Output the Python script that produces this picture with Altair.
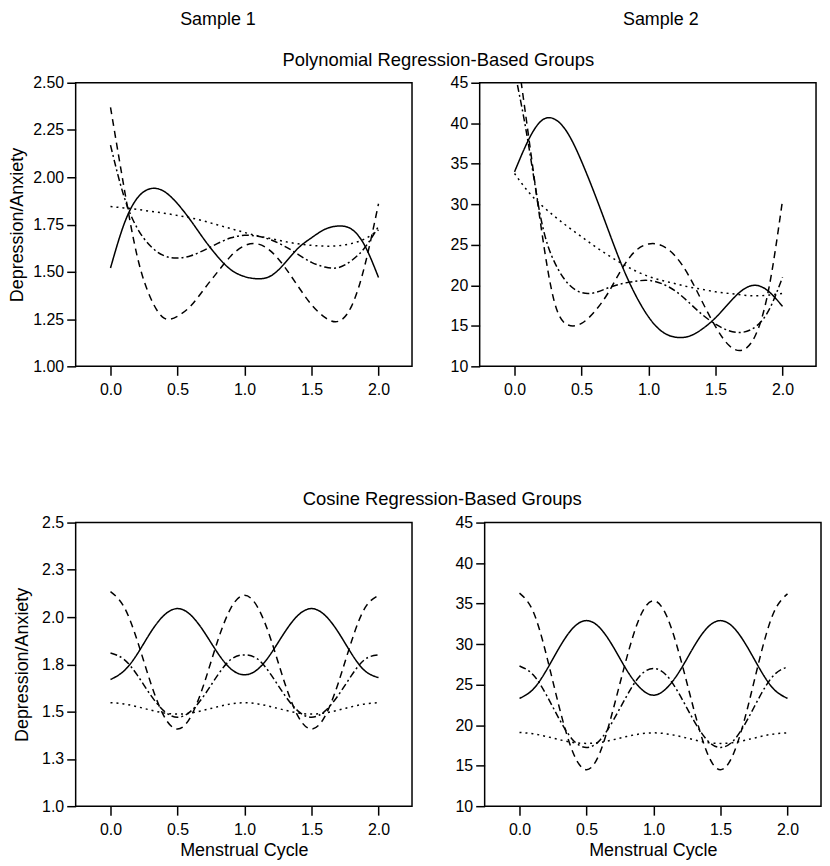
import altair as alt
import pandas as pd

FONT = "Liberation Sans"

# ---- data ----
x_vals = [0.0, 0.1, 0.2, 0.3, 0.4, 0.5, 0.6, 0.7, 0.8, 0.9, 1.0,
          1.1, 1.2, 1.3, 1.4, 1.5, 1.6, 1.7, 1.8, 1.9, 2.0]

styles = ["solid", "dashed", "dotted", "dashdot"]
dash_patterns = [[1, 0], [7, 5], [2, 4], [7, 3, 2, 3]]

sample_titles = ["Sample 1", "Sample 2"]
row_titles = ["Polynomial Regression-Based Groups", "Cosine Regression-Based Groups"]
y_title = "Depression/Anxiety"
x_title = "Menstrual Cycle"

x_ticks = [0.0, 0.5, 1.0, 1.5, 2.0]
y_ticks_s1 = [1.0, 1.25, 1.5, 1.75, 2.0, 2.25, 2.5]
y_ticks_s2 = [10, 15, 20, 25, 30, 35, 40, 45]

# Polynomial, Sample 1
poly_s1_solid = [1.52, 1.75, 1.89, 1.94, 1.925, 1.86, 1.77, 1.67, 1.58, 1.51, 1.475,
                 1.463, 1.48, 1.545, 1.625, 1.68, 1.725, 1.742, 1.725, 1.635, 1.47]
poly_s1_dashed = [2.37, 1.95, 1.58, 1.36, 1.255, 1.265, 1.32, 1.41, 1.50, 1.585, 1.638,
                  1.647, 1.607, 1.525, 1.423, 1.326, 1.259, 1.238, 1.32, 1.54, 1.86]
poly_s1_dotted = [1.845, 1.838, 1.83, 1.82, 1.81, 1.798, 1.785, 1.768, 1.748, 1.728, 1.708,
                  1.69, 1.675, 1.66, 1.648, 1.64, 1.636, 1.638, 1.65, 1.675, 1.722]
poly_s1_dashdot = [2.17, 1.90, 1.73, 1.635, 1.585, 1.573, 1.585, 1.615, 1.65, 1.68, 1.693,
                   1.688, 1.668, 1.635, 1.592, 1.55, 1.525, 1.522, 1.56, 1.63, 1.74]

# Polynomial, Sample 2
poly_s2_solid = [34.0, 37.8, 40.3, 40.5, 38.7, 35.3, 31.2, 26.8, 22.5, 18.9, 16.1,
                 14.3, 13.6, 13.7, 14.6, 16.0, 17.8, 19.4, 20.0, 19.2, 17.4]
poly_s2_dashed = [51.0, 39.0, 27.0, 17.8, 15.1, 15.3, 16.8, 19.1, 22.0, 24.2, 25.1,
                  24.9, 23.6, 21.2, 18.0, 14.9, 12.6, 12.0, 13.9, 19.8, 30.5]
poly_s2_dotted = [33.8, 31.6, 29.9, 28.5, 27.2, 26.0, 24.8, 23.7, 22.7, 21.8, 21.1,
                  20.6, 20.2, 19.8, 19.5, 19.2, 19.0, 18.8, 18.7, 18.8, 19.0]
poly_s2_dashdot = [46.5, 37.8, 28.0, 22.8, 20.2, 19.1, 19.1, 19.7, 20.2, 20.5, 20.6,
                   20.2, 19.3, 17.9, 16.4, 15.2, 14.4, 14.2, 14.9, 17.0, 21.0]

# Cosine, Sample 1
cos_s1_solid = [1.67, 1.715, 1.805, 1.92, 2.01, 2.045, 2.01, 1.92, 1.81, 1.725, 1.695,
                1.725, 1.81, 1.92, 2.01, 2.045, 2.01, 1.92, 1.805, 1.715, 1.68]
cos_s1_dashed = [2.135, 2.055, 1.875, 1.652, 1.475, 1.408, 1.475, 1.652, 1.875, 2.05, 2.115,
                 2.05, 1.875, 1.652, 1.475, 1.408, 1.475, 1.652, 1.875, 2.05, 2.115]
cos_s1_dotted = [1.547, 1.541, 1.526, 1.508, 1.493, 1.487, 1.493, 1.508, 1.526, 1.541, 1.547,
                 1.541, 1.526, 1.508, 1.493, 1.487, 1.493, 1.508, 1.526, 1.541, 1.547]
cos_s1_dashdot = [1.81, 1.777, 1.693, 1.587, 1.503, 1.47, 1.503, 1.587, 1.693, 1.777, 1.80,
                  1.777, 1.693, 1.587, 1.503, 1.47, 1.503, 1.587, 1.693, 1.777, 1.80]

# Cosine, Sample 2
cos_s2_solid = [23.3, 24.4, 26.75, 29.65, 32.0, 32.9, 32.0, 29.65, 26.8, 24.6, 23.7,
                24.6, 26.8, 29.65, 32.0, 32.9, 32.0, 29.65, 26.75, 24.4, 23.3]
cos_s2_dashed = [36.3, 34.1, 28.7, 22.0, 16.6, 14.5, 16.6, 22.0, 28.3, 33.4, 35.35,
                 33.4, 28.3, 22.0, 16.6, 14.5, 16.6, 22.0, 28.7, 34.0, 36.2]
cos_s2_dotted = [19.1, 18.94, 18.6, 18.2, 17.86, 17.75, 17.86, 18.2, 18.6, 18.92, 19.05,
                 18.92, 18.6, 18.2, 17.86, 17.75, 17.86, 18.2, 18.6, 18.92, 19.05]
cos_s2_dashdot = [27.3, 26.25, 23.75, 20.65, 18.15, 17.25, 18.15, 20.6, 23.6, 26.1, 27.0,
                  26.1, 23.6, 20.6, 18.15, 17.25, 18.15, 20.65, 23.75, 26.2, 27.2]


def make_df(series):
    rows = []
    for style, vals in zip(styles, series):
        for xv, yv in zip(x_vals, vals):
            rows.append({"x": xv, "y": yv, "style": style})
    return pd.DataFrame(rows)


W = 338
H = 285


def panel(series, ydom, yticks, yfmt, show_ytitle, show_xtitle, tpad):
    df = make_df(series)
    if show_ytitle:
        yaxis = alt.Axis(values=yticks, format=yfmt, title=y_title, titlePadding=tpad)
    else:
        yaxis = alt.Axis(values=yticks, format=yfmt, title=None)
    if show_xtitle:
        xaxis = alt.Axis(values=x_ticks, format=".1f", title=x_title, titlePadding=5)
    else:
        xaxis = alt.Axis(values=x_ticks, format=".1f", title=None)
    return alt.Chart(df).mark_line(
        color="black", strokeWidth=1.5, clip=True, interpolate="natural"
    ).encode(
        x=alt.X("x:Q", scale=alt.Scale(domain=[-0.26, 2.25], nice=False, zero=False), axis=xaxis),
        y=alt.Y("y:Q", scale=alt.Scale(domain=ydom, nice=False, zero=False), axis=yaxis),
        strokeDash=alt.StrokeDash("style:N", scale=alt.Scale(domain=styles, range=dash_patterns), legend=None),
    ).properties(width=W, height=H)


def header(text, dx):
    return alt.Chart(pd.DataFrame({"label": [text]})).mark_point(opacity=0).properties(
        width=W, height=1,
        view=alt.ViewBackground(strokeOpacity=0),
        title=alt.TitleParams(text=text, anchor="middle", dx=dx, offset=0),
    )


p1 = panel([poly_s1_solid, poly_s1_dashed, poly_s1_dotted, poly_s1_dashdot],
           [1.0, 2.5], y_ticks_s1, ".2f", True, False, 6)
p2 = panel([poly_s2_solid, poly_s2_dashed, poly_s2_dotted, poly_s2_dashdot],
           [10, 45], y_ticks_s2, "d", False, False, 6)
p3 = panel([cos_s1_solid, cos_s1_dashed, cos_s1_dotted, cos_s1_dashdot],
           [1.0, 2.5], y_ticks_s1, ".1f", True, True, 10)
p4 = panel([cos_s2_solid, cos_s2_dashed, cos_s2_dotted, cos_s2_dashdot],
           [10, 45], y_ticks_s2, "d", False, True, 6)

head = alt.hconcat(header(sample_titles[0], -26), header(sample_titles[1], 45), spacing=36)
top_row = alt.hconcat(p1, p2, spacing=36,
                      title=alt.TitleParams(text=row_titles[0], anchor="middle", dx=26, offset=5,
                                            fontSize=18.5))
bottom_row = alt.hconcat(p3, p4, spacing=41,
                         title=alt.TitleParams(text=row_titles[1], anchor="middle", dx=25, offset=5,
                                               fontSize=18.5))

upper = alt.vconcat(head, top_row, spacing=15)
chart = alt.vconcat(upper, bottom_row, spacing=92, padding=0).configure_view(
    stroke="black", strokeWidth=1.5
).configure_axis(
    domain=False, grid=False, tickColor="black", tickWidth=1.5, tickSize=9,
    labelFont=FONT, labelFontSize=16, labelColor="black",
    titleFont=FONT, titleFontSize=18, titleFontWeight="normal", titleColor="black",
).configure_axisX(labelPadding=6).configure_axisY(labelPadding=3).configure_title(
    font=FONT, fontSize=18, fontWeight="normal", color="black"
)

chart.save("out.html", embed_options={"renderer": "svg", "actions": False})
